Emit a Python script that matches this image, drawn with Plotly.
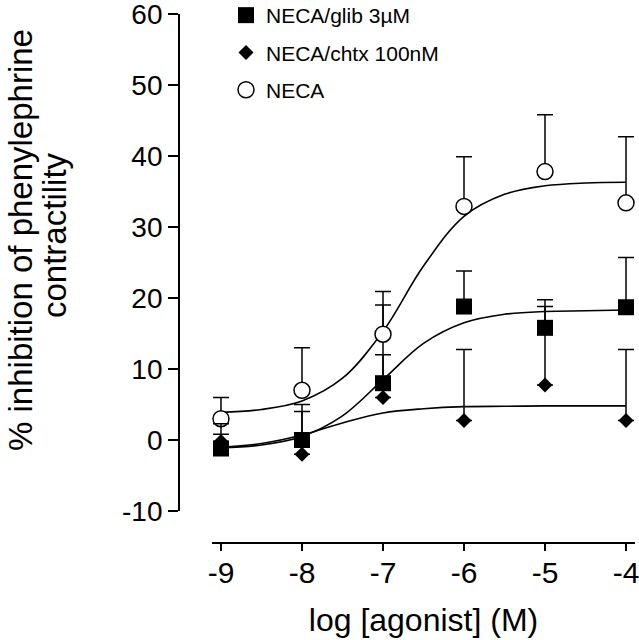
import plotly.graph_objects as go

# ---- data ----
log_agonist = [-9, -8, -7, -6, -5, -4]

neca = [3.0, 7.0, 14.9, 32.9, 37.8, 33.4]
neca_err = [3.0, 6.0, 6.0, 7.0, 8.0, 9.3]

glib = [-1.2, 0.0, 8.0, 18.8, 15.8, 18.7]
glib_err = [3.5, 4.0, 4.0, 5.0, 3.0, 7.0]

chtx = [-0.2, -2.0, 6.0, 2.75, 7.75, 2.75]
chtx_err = [1.0, 7.0, 13.0, 10.0, 12.0, 10.0]

# fitted curves at half-log steps
curve_x = [-9, -8.5, -8, -7.5, -7, -6.5, -6, -5.5, -5, -4.5, -4]
neca_curve = [3.9, 4.3, 5.5, 8.7, 15.3, 24.5, 31.5, 34.6, 35.8, 36.2, 36.3]
glib_curve = [-1.1, -0.7, 0.5, 3.4, 8.5, 13.6, 16.5, 17.7, 18.1, 18.2, 18.3]
chtx_curve = [-1.0, -0.5, 0.7, 2.4, 3.8, 4.4, 4.7, 4.75, 4.8, 4.8, 4.8]

x_ticks = [-9, -8, -7, -6, -5, -4]
y_ticks = [-10, 0, 10, 20, 30, 40, 50, 60]

FONT = "Liberation Sans, Arial, sans-serif"

fig = go.Figure()

for cy in (neca_curve, glib_curve, chtx_curve):
    fig.add_trace(go.Scatter(x=curve_x, y=cy, mode="lines",
                             line=dict(color="black", width=1.6, shape="spline"),
                             showlegend=False, hoverinfo="skip"))

def err(arr):
    return dict(type="data", array=arr, arrayminus=[0] * len(arr), symmetric=False,
                color="black", thickness=1.5, width=8)

fig.add_trace(go.Scatter(x=log_agonist, y=chtx, mode="markers", name="NECA/chtx 100nM",
                         marker=dict(symbol="diamond", size=11.5, color="black"),
                         error_y=err(chtx_err), legendgroup="b", legendrank=2,
                         cliponaxis=False))
fig.add_trace(go.Scatter(x=log_agonist, y=neca, mode="markers", name="NECA",
                         marker=dict(symbol="circle", size=16, color="white",
                                     line=dict(color="black", width=1.5)),
                         error_y=err(neca_err), legendgroup="c", legendrank=3,
                         cliponaxis=False))
fig.add_trace(go.Scatter(x=log_agonist, y=glib, mode="markers", name="NECA/glib 3µM",
                         marker=dict(symbol="square", size=16, color="black"),
                         error_y=err(glib_err), legendgroup="a", legendrank=1,
                         cliponaxis=False))

L, R, T, B = 179, 4, 14, 97
W, H = 639, 640
pw = W - L - R
ph = H - T - B

fig.update_layout(
    width=W, height=H,
    margin=dict(l=L, r=R, t=T, b=B, autoexpand=False),
    paper_bgcolor="white", plot_bgcolor="white",
    font=dict(family=FONT, color="black"),
    showlegend=True,
    legend=dict(x=(226 - L) / pw, y=(H - B + 5) / ph, xanchor="left", yanchor="top",
                font=dict(size=21, family=FONT, color="black"),
                bgcolor="rgba(0,0,0,0)", tracegroupgap=7, traceorder="grouped"),
    xaxis=dict(domain=[(212 - L) / pw, 1], range=[-9.111, -3.889],
               anchor="free", position=0,
               tickmode="array", tickvals=x_ticks, ticktext=[str(v) for v in x_ticks],
               ticks="outside", ticklen=7, tickwidth=1.5, tickcolor="black",
               showline=True, linecolor="black", linewidth=1.8,
               showgrid=False, zeroline=False, automargin=False,
               ticklabeloverflow="allow", ticklabelstandoff=-4,
               tickfont=dict(size=30, family=FONT, color="black"),
               title=dict(text="log [agonist] (M)", standoff=20,
                          font=dict(size=32, family=FONT, color="black"))),
    yaxis=dict(domain=[(H - B - 511) / ph, 1], range=[-10, 60],
               anchor="free", position=0,
               tickmode="array", tickvals=y_ticks, ticktext=[str(v) for v in y_ticks],
               ticks="outside", ticklen=10, tickwidth=1.5, tickcolor="black",
               showline=True, linecolor="black", linewidth=1.8,
               showgrid=False, zeroline=False, automargin=False,
               ticklabeloverflow="allow",
               tickfont=dict(size=28, family=FONT, color="black")),
)

# y-axis title as two rotated lines
fig.add_annotation(text="% inhibition of phenylephrine", xref="paper", yref="paper",
                   x=(21 - L) / pw, y=(H - B - 240) / ph, xanchor="center", yanchor="middle",
                   textangle=-90, showarrow=False,
                   font=dict(size=33, family=FONT, color="black"))
fig.add_annotation(text="contractility", xref="paper", yref="paper",
                   x=(54 - L) / pw, y=(H - B - 235) / ph, xanchor="center", yanchor="middle",
                   textangle=-90, showarrow=False,
                   font=dict(size=33, family=FONT, color="black"))

fig.write_html("out.html", config={"displayModeBar": False},
               post_script="document.body.style.margin='0';document.body.style.overflow='hidden';")
